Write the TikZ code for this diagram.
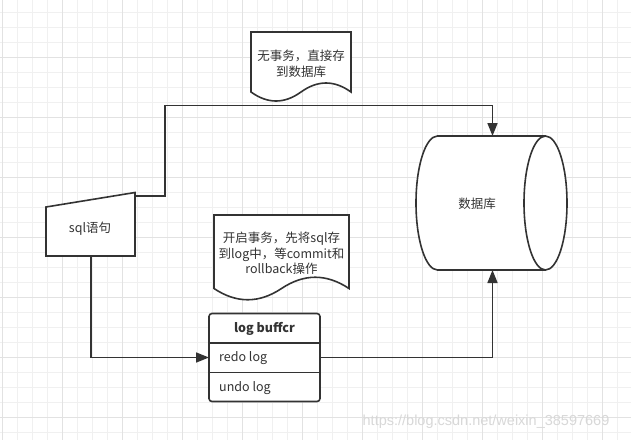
\documentclass[tikz,border=0pt]{standalone}
\usepackage{fontspec}
\setmainfont{Noto Sans CJK SC}
\newfontfamily\wmfont{Liberation Sans}
\usetikzlibrary{arrows.meta}
\definecolor{ink}{HTML}{333333}
\definecolor{gridminor}{HTML}{F0F0F0}
\definecolor{gridmajor}{HTML}{E2E2E2}
\definecolor{wmark}{HTML}{D8D8D8}
\tikzset{
  shp/.style={draw=ink, line width=1.6pt, fill=white, line join=miter},
  txt/.style={text=ink, font=\fontsize{12.5}{16}\selectfont, align=center, inner sep=0pt},
  conn/.style={draw=ink, line width=1.6pt},
  arr/.style={conn, -{Triangle[length=13pt,width=10pt]}},
}
\begin{document}
\begin{tikzpicture}[x=1pt,y=-1pt]
\useasboundingbox (0,0) rectangle (631,440);
\fill[white] (0,0) rectangle (631,440);
% grid
\foreach \k in {0,...,42} {\draw[gridminor, line width=0.8pt] ({2+15*\k},0) -- ({2+15*\k},440);}
\foreach \k in {0,...,30} {\draw[gridminor, line width=0.8pt] (0,{-2.7+15*\k}) -- (631,{-2.7+15*\k});}
\foreach \k in {0,...,10} {\draw[gridmajor, line width=0.8pt] ({2+60*\k},0) -- ({2+60*\k},440);}
\foreach \k in {0,...,7} {\draw[gridmajor, line width=0.8pt] (0,{-2.7+60*\k}) -- (631,{-2.7+60*\k});}

% sql trapezoid (manual input)
\draw[shp] (46,207) -- (135,192.5) -- (135,256) -- (46,256) -- cycle;
\node[txt] (sql) at (90,229) {sql语句};
\coordinate (sqlout) at (135,196);
\coordinate (sqlbot) at (91,256);

% document 1
\draw[shp] (251,32) -- (351,32) -- (351,92)
  .. controls (334.33,80) and (317.67,80) .. (301,92)
  .. controls (284.33,104) and (267.67,104) .. (251,92) -- cycle;
\node[txt] (doc1) at (301,63.5) {无事务，直接存\\到数据库};

% document 2
\draw[shp] (214,215) -- (349,215) -- (349,288.5)
  .. controls (326.5,273.5) and (304,273.5) .. (281.5,288.5)
  .. controls (259,303.5) and (236.5,303.5) .. (214,288.5) -- cycle;
\node[txt, font=\fontsize{12.5}{15.5}\selectfont] (doc2) at (281.5,253.5) {开启事务，先将sql存\\到log中，等commit和\\rollback操作};

% cylinder (database)
\draw[shp] (437.5,136) -- (545.5,136)
  .. controls (557.37,136) and (567,166) .. (567,203)
  .. controls (567,240) and (557.37,270) .. (545.5,270)
  -- (437.5,270)
  .. controls (425.63,270) and (416,240) .. (416,203)
  .. controls (416,166) and (425.63,136) .. (437.5,136) -- cycle;
\draw[shp, fill=none] (545.5,136)
  .. controls (533.63,136) and (524,166) .. (524,203)
  .. controls (524,240) and (533.63,270) .. (545.5,270);
\node[txt] (db) at (477,204) {数据库};
\coordinate (dbtop) at (492.5,136);
\coordinate (dbbot) at (492.5,270);

% log buffer table
\draw[shp, rounded corners=3pt] (209,313.5) rectangle (320,401.5);
\draw[conn] (209,343) -- (320,343);
\draw[conn] (209,372.5) -- (320,372.5);
\node[txt, font=\bfseries\fontsize{12.5}{16}\selectfont] (lbhead) at (264.5,328.5) {log buffcr};
\node[txt, anchor=west] (redo) at (219,358) {redo log};
\node[txt, anchor=west] (undo) at (219,388) {undo log};
\coordinate (redoL) at (209,357.5);
\coordinate (redoR) at (320,357.5);
\coordinate (bend) at (165,105.5);

% connectors
\draw[arr] (sqlout) -| (bend) -| (dbtop);
\draw[arr] (sqlbot) |- (redoL);
\draw[arr] (redoR) -| (dbbot);

% watermark
\node[text=wmark, font=\wmfont\fontsize{14.5}{16}\selectfont, inner sep=0pt] (wm) at (486,422) {https://blog.csdn.net/weixin\_38597669};
\end{tikzpicture}
\end{document}
